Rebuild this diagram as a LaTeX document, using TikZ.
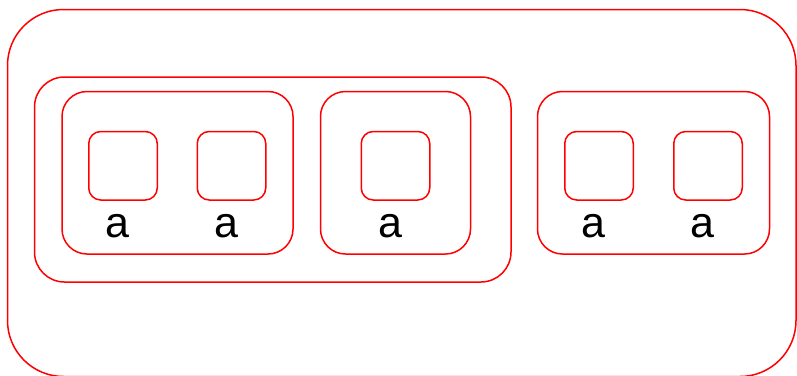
\documentclass[tikz,border=0pt]{standalone}
\usepackage{fontspec}
\setmainfont{Liberation Sans}
\usetikzlibrary{positioning}

\begin{document}
\begin{tikzpicture}[
  x=1pt, y=-1pt,
  cell/.style={rectangle, draw=red, line width=1.5pt, rounded corners=12pt, minimum width=68.5pt, minimum height=68.5pt, inner sep=0pt},
  group/.style={rectangle, draw=red, line width=1.5pt, rounded corners=25pt, minimum height=162.5pt, inner sep=0pt},
  lbl/.style={font=\fontsize{43}{43}\selectfont, inner sep=0pt, xshift=-5.5pt},
]
  \useasboundingbox (0,0) rectangle (797,375);

  % outer frame and the big group
  \node[rectangle, draw=red, line width=1.5pt, rounded corners=56pt, minimum width=788.5pt, minimum height=367pt, inner sep=0pt] (frame) at (401.75,193) {};
  \node[rectangle, draw=red, line width=1.5pt, rounded corners=30pt, minimum width=476.5pt, minimum height=205pt, inner sep=0pt] (big) at (272.75,179.5) {};

  % groups
  \node[group, minimum width=231pt] (ga) at (177.5,172.75) {};
  \node[group, minimum width=150pt] (gb) at (395.5,172.75) {};
  \node[group, minimum width=232pt] (gc) at (653.5,172.75) {};

  % cells
  \node[cell] (c1) at (123,165.75) {};
  \node[cell] (c2) at (231.5,165.75) {};
  \node[cell] (c3) at (395.5,165.75) {};
  \node[cell] (c4) at (599,165.75) {};
  \node[cell] (c5) at (708,165.75) {};

  % labels
  \node[lbl, below=13pt of c1] (l1) {a};
  \node[lbl, below=13pt of c2] (l2) {a};
  \node[lbl, below=13pt of c3] (l3) {a};
  \node[lbl, below=13pt of c4] (l4) {a};
  \node[lbl, below=13pt of c5] (l5) {a};
\end{tikzpicture}
\end{document}
